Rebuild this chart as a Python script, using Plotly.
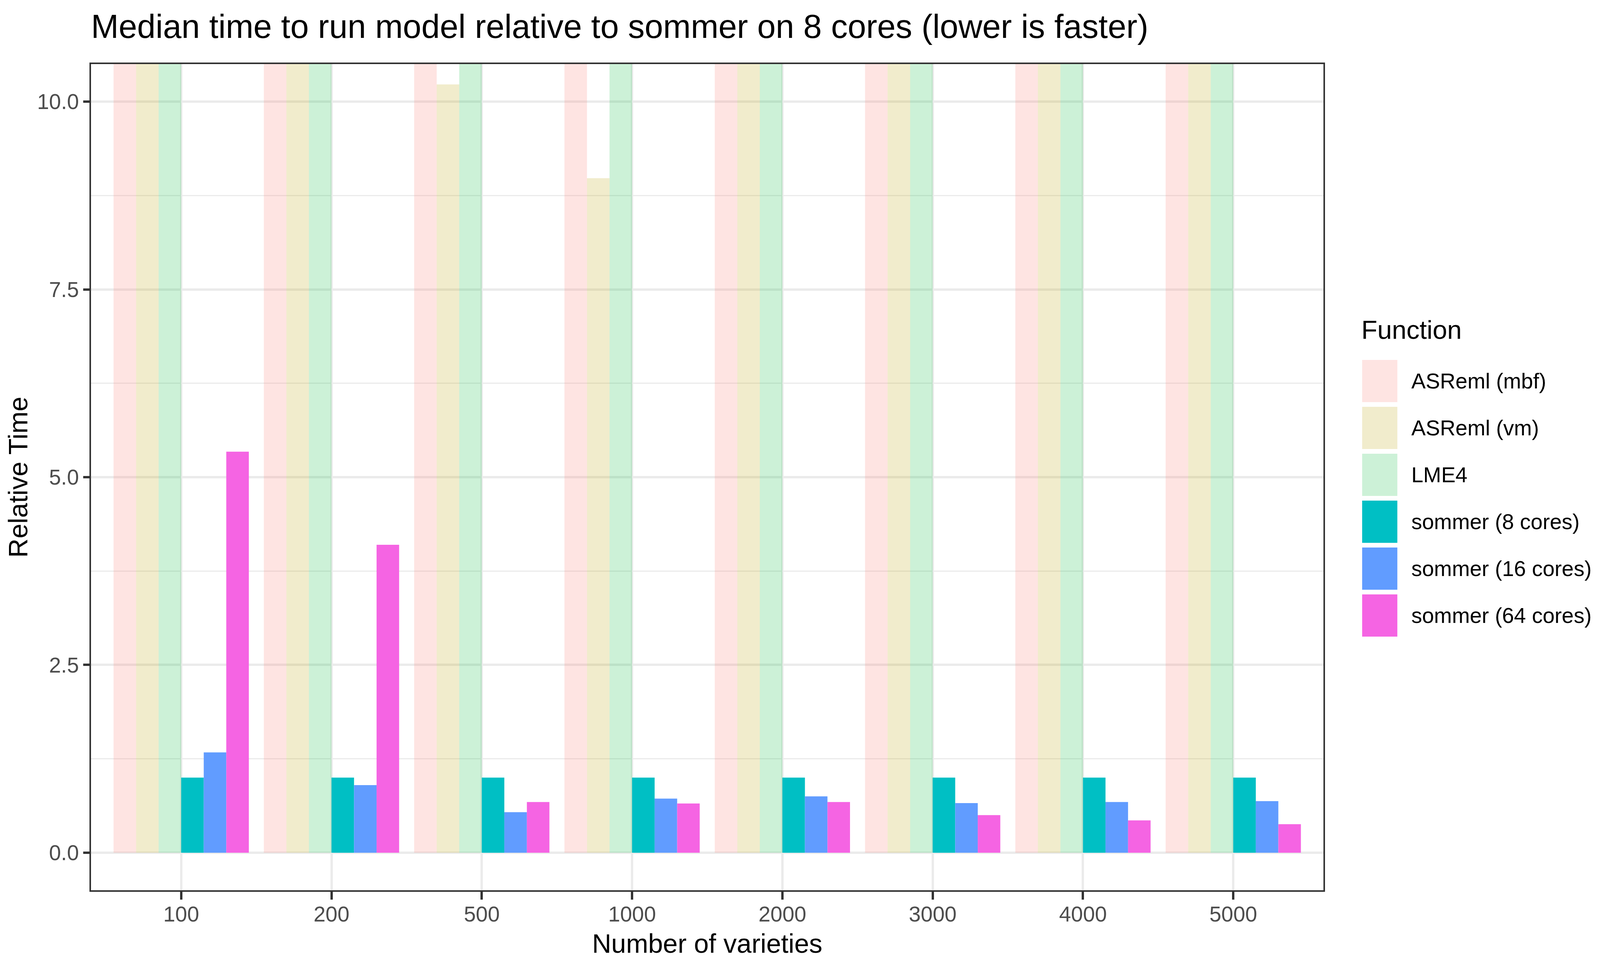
import plotly.graph_objects as go

varieties = ["100", "200", "500", "1000", "2000", "3000", "4000", "5000"]
series_names = ["ASReml (mbf)", "ASReml (vm)", "LME4",
                "sommer (8 cores)", "sommer (16 cores)", "sommer (64 cores)"]
# values above the visible window (10.5) are clipped in the reference; estimates
asreml_mbf = [30.0, 28.0, 25.0, 22.0, 20.0, 18.0, 17.0, 16.0]
asreml_vm = [14.0, 12.0, 10.23, 8.98, 13.0, 14.0, 15.0, 16.0]
lme4 = [40.0, 38.0, 36.0, 34.0, 32.0, 30.0, 28.0, 26.0]
sommer_8 = [1.0, 1.0, 1.0, 1.0, 1.0, 1.0, 1.0, 1.0]
sommer_16 = [1.335, 0.90, 0.54, 0.72, 0.75, 0.66, 0.675, 0.686]
sommer_64 = [5.34, 4.10, 0.675, 0.655, 0.675, 0.50, 0.43, 0.38]
y_ticks = [0.0, 2.5, 5.0, 7.5, 10.0]

series_values = [asreml_mbf, asreml_vm, lme4, sommer_8, sommer_16, sommer_64]
colors = ["rgba(248,118,109,0.2)", "rgba(183,159,0,0.2)", "rgba(0,186,56,0.2)",
          "#00BFC4", "#619CFF", "#F564E3"]

# The browser viewport is 4096 px wide; lay the 5000x2500 design out inside it
# (page body has an 8 px margin).
SX = 4096 / 5000
PAD = 8
W, H = 4096 - 2 * PAD, 2500 - 2 * PAD
FS = 0.9  # font scale


def sx(p):
    return p * SX - PAD


def sy(p):
    return p - PAD


L, R, T, B = sx(284), sx(4136), sy(164), sy(2278)
FONT = "Liberation Sans, Arial, sans-serif"

fig = go.Figure()
for name, vals, col in zip(series_names, series_values, colors):
    fig.add_trace(go.Bar(x=varieties, y=vals, name=name,
                         marker=dict(color=col, line=dict(width=0)),
                         showlegend=False))

fig.update_layout(
    width=W, height=H,
    margin=dict(l=L, r=W - R, t=T, b=H - B, autoexpand=False),
    barmode="group", bargap=0.1, bargroupgap=0,
    plot_bgcolor="white", paper_bgcolor="white",
    font=dict(family=FONT, color="black"),
    title=dict(text="Median time to run model relative to sommer on 8 cores (lower is faster)",
               font=dict(size=round(94 * FS), color="black", family=FONT),
               x=0, xref="paper", xanchor="left",
               y=1 - sy(67) / H, yref="container", yanchor="middle"),
)

fig.update_xaxes(
    type="category", range=[-0.6, 7.6],
    showgrid=True, gridcolor="#EBEBEB", gridwidth=6,
    showline=True, linecolor="#333333", linewidth=4, mirror=True,
    ticks="outside", ticklen=20, tickwidth=6, tickcolor="#333333",
    ticklabelstandoff=-10,
    tickfont=dict(size=round(61 * FS), color="#4D4D4D", family=FONT),
    title=dict(text="Number of varieties", font=dict(size=round(76 * FS), color="black", family=FONT),
               standoff=22),
    zeroline=False,
)
fig.update_yaxes(
    range=[-0.5, 10.5],
    tickvals=y_ticks, ticktext=[f"{v:.1f}" for v in y_ticks],
    showgrid=True, gridcolor="#EBEBEB", gridwidth=6,
    minor=dict(showgrid=True, gridcolor="#EBEBEB", gridwidth=3, dtick=1.25, tick0=0),
    showline=True, linecolor="#333333", linewidth=4, mirror=True,
    ticks="outside", ticklen=16, tickwidth=6, tickcolor="#333333",
    tickfont=dict(size=round(61 * FS), color="#4D4D4D", family=FONT),
    title=dict(text="Relative Time", font=dict(size=round(76 * FS), color="black", family=FONT),
               standoff=26),
    zeroline=False,
)


def px_x(p):
    return (sx(p) - L) / (R - L)


def px_y(p):
    return (B - sy(p)) / (B - T)


# ggplot-style legend with large keys
fig.add_annotation(text="Function", xref="paper", yref="paper",
                   x=px_x(4252), y=px_y(843), xanchor="left", yanchor="middle",
                   showarrow=False, font=dict(size=round(74 * FS), color="black", family=FONT))
key_top0, pitch, key_h = 921, 120, 108
for i, (name, col) in enumerate(zip(series_names, colors)):
    top = key_top0 + i * pitch
    fig.add_shape(type="rect", xref="paper", yref="paper",
                  x0=px_x(4257), x1=px_x(4367), y0=px_y(top + key_h), y1=px_y(top),
                  fillcolor=col, line=dict(width=0), layer="above")
    fig.add_annotation(text=name, xref="paper", yref="paper",
                       x=px_x(4408), y=px_y(top + key_h / 2), xanchor="left", yanchor="middle",
                       showarrow=False, font=dict(size=round(61 * FS), color="black", family=FONT))

fig.write_html("out.html")
